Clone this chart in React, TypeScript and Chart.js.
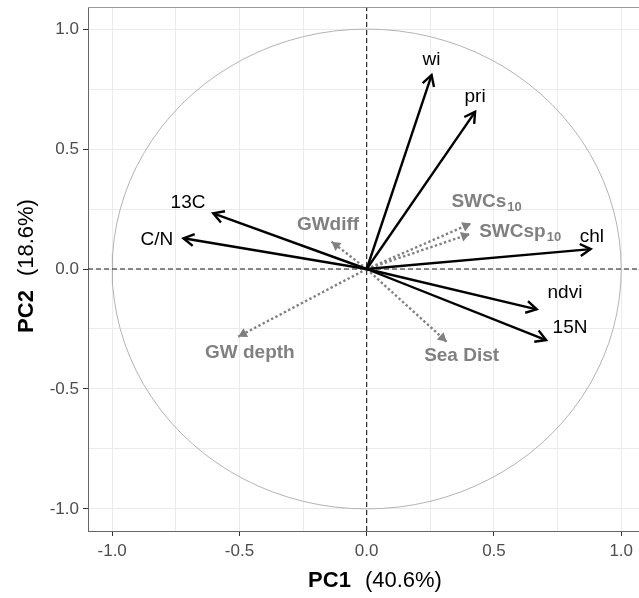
import React, { useEffect, useRef } from "react";
import { Chart, registerables } from "chart.js";

Chart.register(...registerables);

// Active variables (black arrows)
const activeNames = ["wi", "pri", "chl", "ndvi", "15N", "13C", "C/N"];
const activePc1 = [0.255, 0.426, 0.88, 0.668, 0.705, -0.603, -0.72];
const activePc2 = [0.808, 0.655, 0.083, -0.168, -0.296, 0.232, 0.128];
const activeLabelPc1 = [0.255, 0.426, 0.885, 0.779, 0.799, -0.702, -0.824];
const activeLabelPc2 = [0.871, 0.718, 0.133, -0.1, -0.246, 0.275, 0.121];

// Supplementary variables (grey dotted arrows)
const suppNames = ["SWCs", "SWCsp", "GWdiff", "GW depth", "Sea Dist"];
const suppSubscripts = ["10", "10", "", "", ""];
const suppPc1 = [0.41, 0.405, -0.138, -0.505, 0.314];
const suppPc2 = [0.19, 0.146, 0.114, -0.282, -0.303];
const suppLabelPc1 = [0.471, 0.603, -0.152, -0.459, 0.373];
const suppLabelPc2 = [0.28, 0.155, 0.183, -0.35, -0.3625];

// Axes
const majorTicks = [-1, -0.5, 0, 0.5, 1];
const minorTicks = [-0.75, -0.25, 0.25, 0.75];
const xLimits = [-1.095, 1.0935];
const yLimits = [-1.092, 1.092];
const xTitleBold = "PC1";
const xTitleRest = "(40.6%)";
const yTitleBold = "PC2";
const yTitleRest = "(18.6%)";

const FONT = "'Liberation Sans', Arial, Helvetica, sans-serif";

export default function App() {
  const canvasRef = useRef<HTMLCanvasElement | null>(null);

  useEffect(() => {
    const canvas = canvasRef.current;
    if (!canvas) return;

    const circlePts: { x: number; y: number }[] = [];
    for (let i = 0; i <= 100; i++) {
      const t = (i / 100) * Math.PI * 2;
      circlePts.push({ x: Math.cos(t), y: Math.sin(t) });
    }

    const datasets: any[] = [];
    activeNames.forEach((n, i) => {
      datasets.push({
        label: n,
        data: [
          { x: 0, y: 0 },
          { x: activePc1[i], y: activePc2[i] },
        ],
        showLine: true,
        borderColor: "#000000",
        borderWidth: 2.4,
        pointRadius: 0,
        borderCapStyle: "butt",
        order: 1,
      });
    });
    suppNames.forEach((n, i) => {
      datasets.push({
        label: n,
        data: [
          { x: 0, y: 0 },
          { x: suppPc1[i], y: suppPc2[i] },
        ],
        showLine: true,
        borderColor: "#808080",
        borderWidth: 2.4,
        borderDash: [2.4, 2.4],
        pointRadius: 0,
        borderCapStyle: "butt",
        order: 2,
      });
    });
    datasets.push({
      label: "h0",
      data: [
        { x: xLimits[0], y: 0 },
        { x: xLimits[1], y: 0 },
      ],
      showLine: true,
      borderColor: "#1a1a1a",
      borderWidth: 1.1,
      borderDash: [5, 3],
      pointRadius: 0,
      order: 3,
    });
    datasets.push({
      label: "v0",
      data: [
        { x: 0, y: yLimits[0] },
        { x: 0, y: yLimits[1] },
      ],
      showLine: true,
      borderColor: "#1a1a1a",
      borderWidth: 1.1,
      borderDash: [5, 3],
      pointRadius: 0,
      order: 3,
    });
    datasets.push({
      label: "circle",
      data: circlePts,
      showLine: true,
      borderColor: "#b3b3b3",
      borderWidth: 1,
      pointRadius: 0,
      tension: 0,
      order: 4,
    });

    const allTicks = [...majorTicks, ...minorTicks].sort((a, b) => a - b);
    const isMajor = (v: number) => majorTicks.some((m) => Math.abs(m - v) < 1e-9);

    const arrowPlugin = {
      id: "biplotExtras",
      afterDatasetsDraw(chart: any) {
        const { ctx, chartArea, scales } = chart;
        const xs = scales.x;
        const ys = scales.y;
        const ox = xs.getPixelForValue(0);
        const oy = ys.getPixelForValue(0);
        ctx.save();
        // top border
        ctx.strokeStyle = "#999999";
        ctx.lineWidth = 1;
        ctx.beginPath();
        ctx.moveTo(chartArea.left, chartArea.top + 0.5);
        ctx.lineTo(chartArea.right, chartArea.top + 0.5);
        ctx.stroke();

        // active arrowheads (open)
        const wing = (Math.PI / 180) * 30;
        activeNames.forEach((_, i) => {
          const tx = xs.getPixelForValue(activePc1[i]);
          const ty = ys.getPixelForValue(activePc2[i]);
          const a = Math.atan2(ty - oy, tx - ox);
          const L = 12;
          ctx.strokeStyle = "#000";
          ctx.lineWidth = 2.4;
          ctx.lineJoin = "miter";
          ctx.lineCap = "butt";
          ctx.beginPath();
          ctx.moveTo(tx - L * Math.cos(a - wing), ty - L * Math.sin(a - wing));
          ctx.lineTo(tx, ty);
          ctx.lineTo(tx - L * Math.cos(a + wing), ty - L * Math.sin(a + wing));
          ctx.stroke();
        });
        // supplementary arrowheads (closed)
        suppNames.forEach((_, i) => {
          const tx = xs.getPixelForValue(suppPc1[i]);
          const ty = ys.getPixelForValue(suppPc2[i]);
          const a = Math.atan2(ty - oy, tx - ox);
          const L = 10;
          ctx.fillStyle = "#808080";
          ctx.beginPath();
          ctx.moveTo(tx, ty);
          ctx.lineTo(tx - L * Math.cos(a - wing), ty - L * Math.sin(a - wing));
          ctx.lineTo(tx - L * Math.cos(a + wing), ty - L * Math.sin(a + wing));
          ctx.closePath();
          ctx.fill();
        });

        // active labels
        ctx.fillStyle = "#000";
        ctx.font = `19px ${FONT}`;
        ctx.textAlign = "center";
        ctx.textBaseline = "middle";
        activeNames.forEach((n, i) => {
          ctx.fillText(n, xs.getPixelForValue(activeLabelPc1[i]), ys.getPixelForValue(activeLabelPc2[i]));
        });

        // supplementary labels
        ctx.fillStyle = "#808080";
        suppNames.forEach((n, i) => {
          const cx = xs.getPixelForValue(suppLabelPc1[i]);
          const cy = ys.getPixelForValue(suppLabelPc2[i]);
          ctx.font = `bold 19px ${FONT}`;
          const w1 = ctx.measureText(n).width;
          ctx.font = `bold 13px ${FONT}`;
          const sub = suppSubscripts[i];
          const w2 = sub ? ctx.measureText(sub).width + 1 : 0;
          const start = cx - (w1 + w2) / 2;
          ctx.textAlign = "left";
          ctx.textBaseline = "middle";
          ctx.font = `bold 19px ${FONT}`;
          ctx.fillText(n, start, cy);
          if (sub) {
            ctx.font = `bold 13px ${FONT}`;
            ctx.fillText(sub, start + w1 + 1, cy + 6);
          }
        });

        // axis titles
        ctx.fillStyle = "#000";
        ctx.textBaseline = "alphabetic";
        ctx.textAlign = "left";
        const gap = 14;
        ctx.font = `bold 22px ${FONT}`;
        const xb = ctx.measureText(xTitleBold).width;
        ctx.font = `22px ${FONT}`;
        const xr = ctx.measureText(xTitleRest).width;
        const xc = 375;
        let sx = xc - (xb + gap + xr) / 2;
        ctx.font = `bold 22px ${FONT}`;
        ctx.fillText(xTitleBold, sx, 587);
        ctx.font = `22px ${FONT}`;
        ctx.fillText(xTitleRest, sx + xb + gap, 587);

        ctx.translate(33, 266);
        ctx.rotate(-Math.PI / 2);
        ctx.font = `bold 22px ${FONT}`;
        const yb = ctx.measureText(yTitleBold).width;
        ctx.font = `22px ${FONT}`;
        const yr = ctx.measureText(yTitleRest).width;
        sx = -(yb + gap + yr) / 2;
        ctx.font = `bold 22px ${FONT}`;
        ctx.fillText(yTitleBold, sx, 0);
        ctx.font = `22px ${FONT}`;
        ctx.fillText(yTitleRest, sx + yb + gap, 0);
        ctx.restore();
      },
    };

    const tickOpts = {
      color: "#4d4d4d",
      font: { family: FONT, size: 17 },
      autoSkip: false,
      maxRotation: 0,
      minRotation: 0,
      callback: (v: any) => (isMajor(Number(v)) ? Number(v).toFixed(1) : ""),
    };
    const gridOpts = {
      color: "#ebebeb",
      lineWidth: 1,
      tickLength: 5,
      tickWidth: 1,
      tickColor: (c: any) => (c.tick && isMajor(c.tick.value) ? "#333333" : "rgba(0,0,0,0)"),
    };

    const chart = new Chart(canvas, {
      type: "scatter",
      data: { datasets },
      options: {
        responsive: false,
        animation: false,
        devicePixelRatio: 1,
        layout: { padding: { top: 7, left: 0, right: 0, bottom: 0 } },
        plugins: {
          legend: { display: false },
          tooltip: { enabled: false },
        },
        scales: {
          x: {
            type: "linear",
            min: xLimits[0],
            max: xLimits[1],
            afterBuildTicks: (s: any) => {
              s.ticks = allTicks.map((v) => ({ value: v }));
            },
            afterFit: (s: any) => {
              s.height = 67;
              s.paddingLeft = 0;
              s.paddingRight = 0;
            },
            ticks: { ...tickOpts, padding: 5 },
            grid: gridOpts,
            border: { display: true, color: "#666666", width: 1 },
          },
          y: {
            type: "linear",
            min: yLimits[0],
            max: yLimits[1],
            afterBuildTicks: (s: any) => {
              s.ticks = allTicks.map((v) => ({ value: v }));
            },
            afterFit: (s: any) => {
              s.width = 88;
              s.paddingTop = 0;
              s.paddingBottom = 0;
            },
            ticks: { ...tickOpts, padding: 4 },
            grid: gridOpts,
            border: { display: true, color: "#666666", width: 1 },
          },
        },
      },
      plugins: [arrowPlugin],
    });

    return () => chart.destroy();
  }, []);

  return (
    <div
      style={{
        position: "fixed",
        left: 0,
        top: 0,
        width: 639,
        height: 598,
        overflow: "hidden",
        background: "#ffffff",
      }}
    >
      <canvas ref={canvasRef} width={645} height={598} style={{ width: 645, height: 598, display: "block" }} />
    </div>
  );
}
